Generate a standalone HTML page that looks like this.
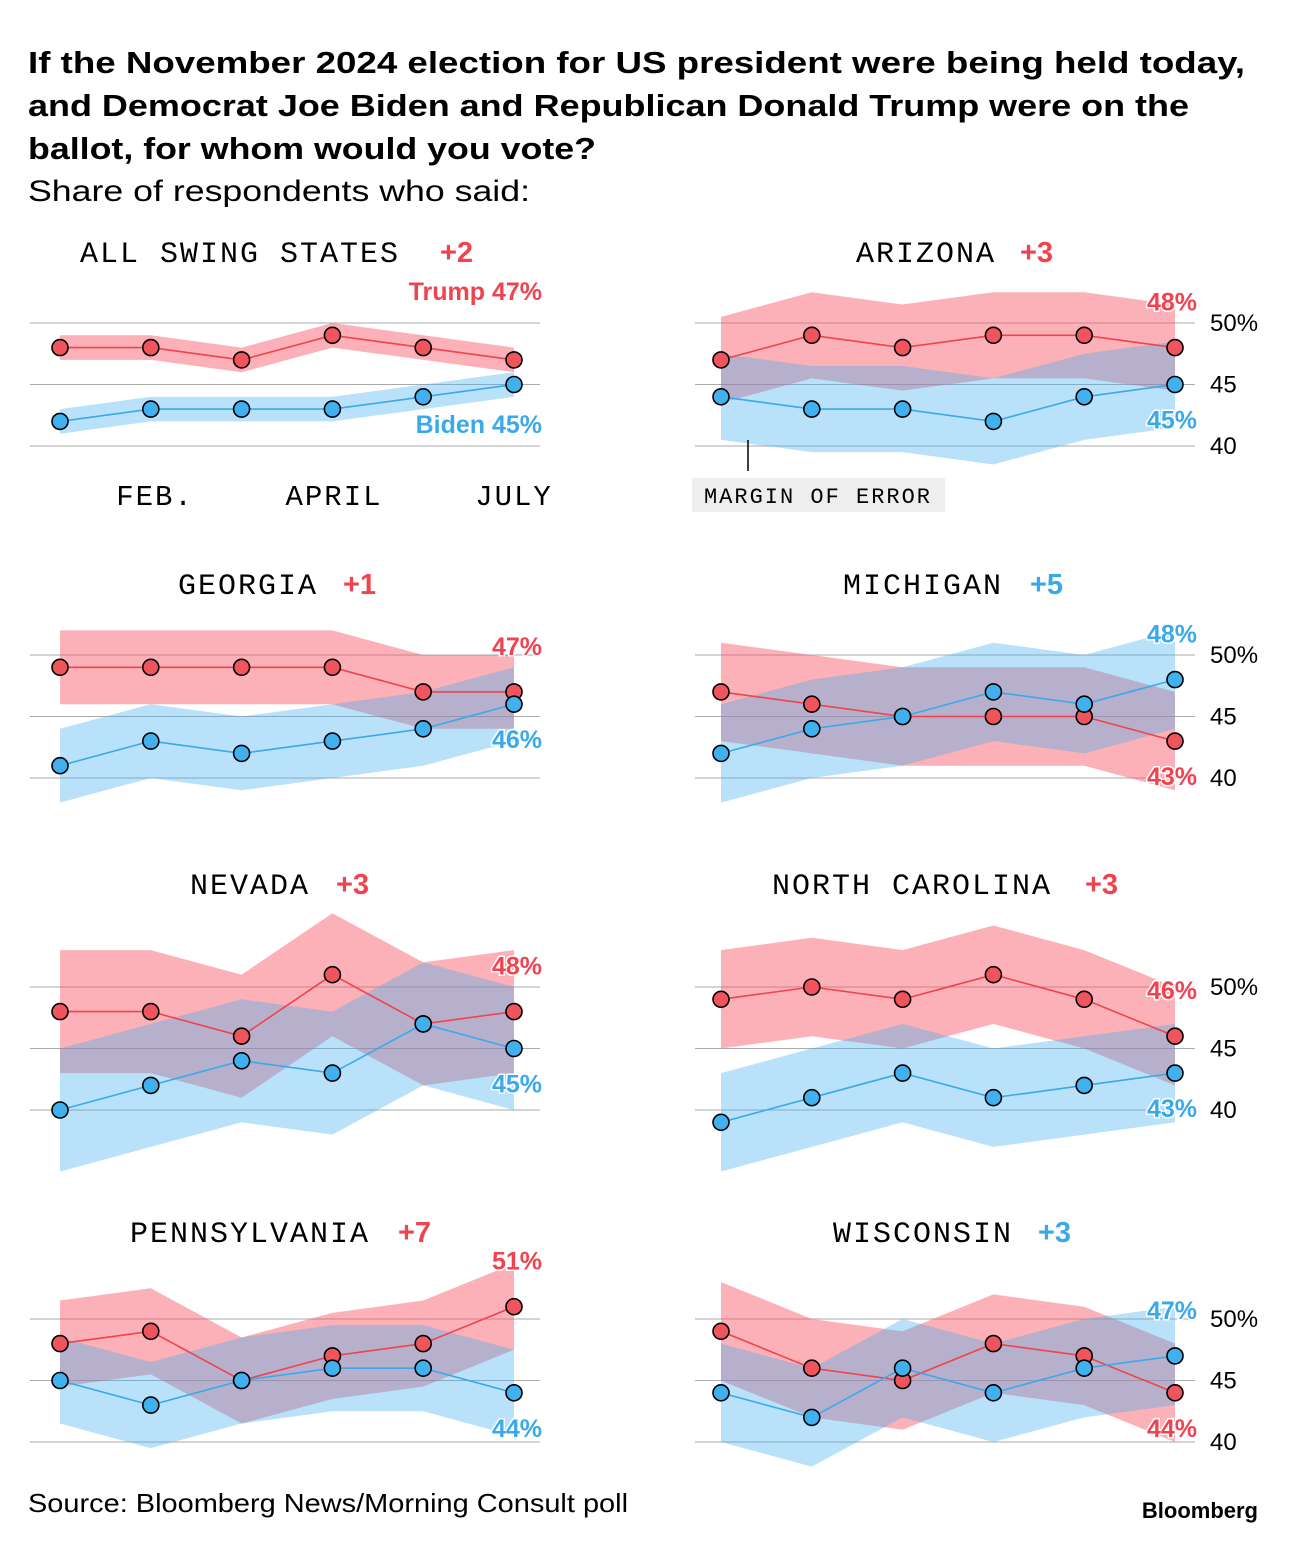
<!DOCTYPE html>
<html><head><meta charset="utf-8"><style>
html,body{margin:0;padding:0;background:#fff}
svg{display:block}
</style></head><body>
<svg id="chart" width="1296" height="1544" viewBox="0 0 1296 1544" xmlns="http://www.w3.org/2000/svg" font-family="Liberation Sans, sans-serif">
<g font-weight="bold" font-size="31" fill="#000">
<text x="28" y="73" textLength="1217" lengthAdjust="spacingAndGlyphs">If the November 2024 election for US president were being held today,</text>
<text x="28" y="116" textLength="1161" lengthAdjust="spacingAndGlyphs">and Democrat Joe Biden and Republican Donald Trump were on the</text>
<text x="28" y="159" textLength="568" lengthAdjust="spacingAndGlyphs">ballot, for whom would you vote?</text>
</g>
<text x="28" y="201" font-size="30" fill="#000" textLength="502" lengthAdjust="spacingAndGlyphs">Share of respondents who said:</text>
<g id="panels"></g>
<g font-family="Liberation Mono, monospace" font-size="29" fill="#000" text-anchor="middle" letter-spacing="2">
<text x="155" y="505">FEB.</text><text x="334" y="505">APRIL</text><text x="514" y="505">JULY</text>
</g>
<g>
<line x1="748" y1="440" x2="748" y2="471" stroke="#000" stroke-width="1.5"/>
<rect x="692" y="478" width="253" height="34" fill="#eeeeee"/>
<text x="818" y="503" text-anchor="middle" font-family="Liberation Mono, monospace" font-size="22" letter-spacing="2">MARGIN OF ERROR</text>
</g>
<text x="28" y="1512" font-size="26" fill="#000" textLength="600" lengthAdjust="spacingAndGlyphs">Source: Bloomberg News/Morning Consult poll</text>
<text x="1258" y="1518" text-anchor="end" font-size="22" font-weight="bold" fill="#000">Bloomberg</text>
</svg>
<script>
const states = ["ALL SWING STATES","ARIZONA","GEORGIA","MICHIGAN","NEVADA","NORTH CAROLINA","PENNSYLVANIA","WISCONSIN"];
const leads = ["+2","+3","+1","+5","+3","+3","+7","+3"];
const leaders = ["trump","trump","trump","biden","trump","trump","trump","biden"];
const trumpValues = [
[48,48,47,49,48,47],
[47,49,48,49,49,48],
[49,49,49,49,47,47],
[47,46,45,45,45,43],
[48,48,46,51,47,48],
[49,50,49,51,49,46],
[48,49,45,47,48,51],
[49,46,45,48,47,44]];
const bidenValues = [
[42,43,43,43,44,45],
[44,43,43,42,44,45],
[41,43,42,43,44,46],
[42,44,45,47,46,48],
[40,42,44,43,47,45],
[39,41,43,41,42,43],
[45,43,45,46,46,44],
[44,42,46,44,46,47]];
const margins = [1,3.5,3,4,5,4,3.5,4];
const yTicks = [50,45,40];
const tickLabels = ["50%","45","40"];

const NS="http://www.w3.org/2000/svg";
const root=document.getElementById('panels');
const RED="#f0434f", BLUE="#3aa9ea";
const titleY=[262,594,894,1242];
const titleX=[[80,440],[856,1020],[178,343],[843,1030],[190,336],[772,1085],[130,398],[833,1038]];
function mk(tag,attrs,parent){const e=document.createElementNS(NS,tag);for(const k in attrs)e.setAttribute(k,attrs[k]);parent.appendChild(e);return e;}
states.forEach((st,i)=>{
  const col=i%2,row=Math.floor(i/2);
  const x0=col?721:60, step=90.8;
  const base=323+row*332;
  const y=v=>base+(50-v)*12.3;
  const x=j=>x0+j*step;
  const g=mk('g',{},root);
  
  
  yTicks.forEach((t,k)=>{
    const l=mk('line',{x1:col?695:30,x2:col?1195:540,y1:y(t),y2:y(t),stroke:'#aaa','stroke-width':1},g);
    
    
    if(col){
      const tx=mk('text',{x:1210,y:y(t)+8,'font-size':24,fill:'#000'},g);
      tx.textContent=tickLabels[k];
      
      
    }
  });
  const m=margins[i];
  [[trumpValues[i],'rgba(247,82,95,0.45)','trump'],[bidenValues[i],'rgba(70,175,240,0.38)','biden']].forEach(([vals,bandC,nm])=>{
    const top=vals.map((v,j)=>x(j)+','+y(v+m)).join(' ');
    const bot=vals.map((v,j)=>x(j)+','+y(v-m)).reverse().join(' ');
    const band=mk('polygon',{points:top+' '+bot,fill:bandC},g);
    
    
  });
  [[trumpValues[i],RED,'trump'],[bidenValues[i],BLUE,'biden']].forEach(([vals,lineC,nm])=>{
    const ln=mk('polyline',{points:vals.map((v,j)=>x(j)+','+y(v)).join(' '),fill:'none',stroke:lineC,'stroke-width':1.6},g);
    
    
  });
  [[trumpValues[i],'#f0545d','trump'],[bidenValues[i],'#41b0ef','biden']].forEach(([vals,ptC,nm])=>{
    vals.forEach((v,j)=>{
      const c=mk('circle',{cx:x(j),cy:y(v),r:8,fill:ptC,stroke:'#000','stroke-width':1.6},g);
      
      
    });
  });
  const tL=trumpValues[i][5], bL=bidenValues[i][5];
  const lx=col?1197:542;
  const tAbove=tL>=bL;
  const tt=mk('text',{x:lx,y:i==0?300:(tAbove?y(tL)-37:y(tL)+44),'text-anchor':'end','font-size':25,'font-weight':'bold',fill:RED,stroke:'#fff','stroke-width':3,'paint-order':'stroke'},g);
  tt.textContent=(i==0?'Trump ':'')+tL+'%';
  
  
  const bt=mk('text',{x:lx,y:i==0?433:(tAbove?y(bL)+44:y(bL)-37),'text-anchor':'end','font-size':25,'font-weight':'bold',fill:BLUE,stroke:'#fff','stroke-width':3,'paint-order':'stroke'},g);
  bt.textContent=(i==0?'Biden ':'')+bL+'%';
  
  
  const ti=mk('text',{x:titleX[i][0],y:titleY[row],'font-family':'Liberation Mono, monospace','font-size':30,'letter-spacing':2,fill:'#000'},g);
  ti.textContent=st;
  
  
  const le=mk('text',{x:titleX[i][1],y:titleY[row],'font-size':29,'font-weight':'bold',fill:leaders[i]=='trump'?RED:BLUE},g);
  le.textContent=leads[i];
  
  
});
</script>
</body></html>
